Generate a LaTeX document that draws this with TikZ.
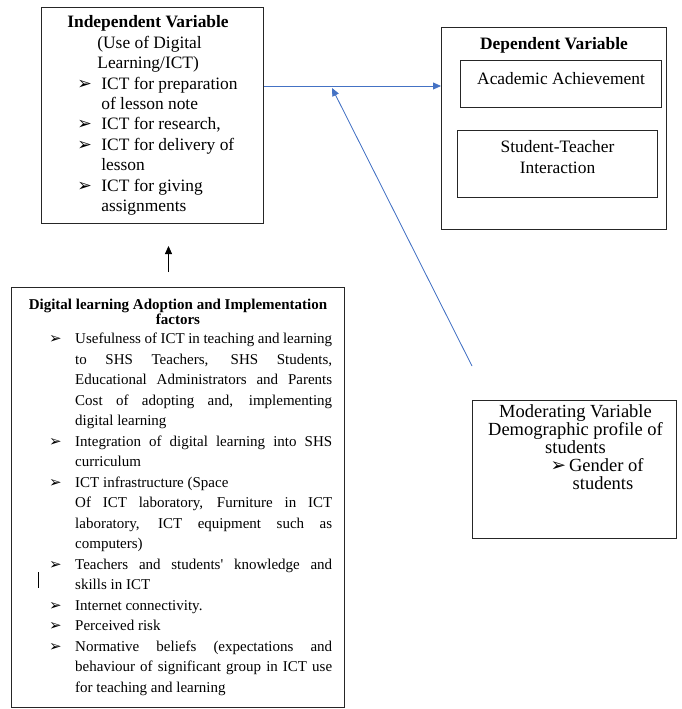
\documentclass[tikz,border=0pt]{standalone}
\usepackage{fontspec}
\setmainfont{Liberation Serif}
\newfontfamily\symfont{DejaVu Sans}
\usetikzlibrary{calc, positioning, arrows.meta}
\tikzset{>={Triangle[length=8pt,width=7pt]}}
\definecolor{wordblue}{RGB}{68,114,196}
\newcommand{\bul}{{\symfont\char"27A2}}
\newcommand{\bl}{\makebox[26pt][l]{\bul}}
\newcommand{\ind}{\hspace*{26pt}}
\newcommand{\jl}[1]{\makebox[257pt][s]{#1}}
\tikzset{
  box/.style={draw=black!85, line width=1pt, inner sep=0pt},
  big/.style={font=\fontsize{17.4}{20.4}\selectfont},
  small/.style={font=\fontsize{15}{20.5}\selectfont},
  blue arrow/.style={->, draw=wordblue, fill=wordblue, line width=0.8pt},
}

\begin{document}
\begin{tikzpicture}[x=1pt, y=-1pt]
	\useasboundingbox (0,0) rectangle (681,709);
	% independent variable
	\node[box, big, align=left, anchor=north west, minimum width=222pt, minimum height=216pt] (indep) at (41,7) {%
		\textbf{Independent Variable}\\
		\hspace*{30pt}(Use of Digital\\
		\hspace*{30pt}Learning/ICT)\\
		\hspace*{10pt}\makebox[24pt][l]{\bul}ICT for preparation\\
		\hspace*{34pt}of lesson note\\
		\hspace*{10pt}\makebox[24pt][l]{\bul}ICT for research,\\
		\hspace*{10pt}\makebox[24pt][l]{\bul}ICT for delivery of\\
		\hspace*{34pt}lesson\\
		\hspace*{10pt}\makebox[24pt][l]{\bul}ICT for giving\\
		\hspace*{34pt}assignments};
	% dependent variable
	\node[box, anchor=north west, minimum width=225pt, minimum height=202pt] (dep) at (441,27) {};
	\node[font=\fontsize{17.4}{20.4}\selectfont\bfseries, anchor=base, inner sep=0pt] (deptitle) at ($(dep.north)+(0,23)$) {Dependent Variable};
	\node[box, big, fill=white, anchor=north west, minimum width=201pt, minimum height=47pt, text depth=11pt] (acad) at (460,60) {Academic Achievement};
	\node[box, big, align=center, anchor=north west, minimum width=200pt, minimum height=67pt, text depth=14pt] (inter) at (457,130) {Student-Teacher\\Interaction};
	% moderating variable
	\node[box, anchor=north west, minimum width=204pt, minimum height=138pt] (mod) at (472,400) {};
	\node[align=center, inner sep=0pt, anchor=north, font=\fontsize{18.5}{18}\selectfont] (modtext) at ($(mod.north)+(1,4)$) {%
		Moderating Variable\\
		Demographic profile of\\
		students\\
		\hspace*{43pt}\bul\hspace{3pt}Gender of\\
		\hspace*{55pt}students};
	% adoption and implementation factors
	\node[box, anchor=north west, minimum width=333pt, minimum height=420pt] (fact) at (11,287) {};
	\node[align=center, inner sep=0pt, anchor=north, font=\fontsize{15}{13.5}\selectfont\bfseries] (facttitle) at ($(fact.north)+(0,12)$) {%
		Digital learning Adoption and Implementation\\ factors};
	\node[small, align=left, inner sep=0pt, anchor=north west] (factlist) at (49,333) {%
		\bl\jl{Usefulness of ICT in teaching and learning}\\
		\ind\jl{to SHS Teachers, SHS Students,}\\
		\ind\jl{Educational Administrators and Parents}\\
		\ind\jl{Cost of adopting and, implementing}\\
		\ind digital learning\\
		\bl\jl{Integration of digital learning into SHS}\\
		\ind curriculum\\
		\bl ICT infrastructure (Space\\
		\ind\jl{Of ICT laboratory, Furniture in ICT}\\
		\ind\jl{laboratory, ICT equipment such as}\\
		\ind computers)\\
		\bl\jl{Teachers and students\textquotesingle\ knowledge and}\\
		\ind skills in ICT\\
		\bl Internet connectivity.\\
		\bl Perceived risk\\
		\bl\jl{Normative beliefs (expectations and}\\
		\ind\jl{behaviour of significant group in ICT use}\\
		\ind for teaching and learning};
	\draw[line width=0.6pt] (38,572) -- (38,588);
	% connectors
	\coordinate (hmid) at (0,86);
	\coordinate (meet) at (332,88);
	\draw[blue arrow] (indep.east |- hmid) -- (dep.west |- hmid);
	\draw[blue arrow] ([yshift=34pt]mod.north west) -- (meet);
	\draw[->, line width=0.8pt] ([xshift=-9.5pt, yshift=15pt]fact.north) -- ([xshift=16pt, yshift=-22pt]indep.south);
\end{tikzpicture}
\end{document}
